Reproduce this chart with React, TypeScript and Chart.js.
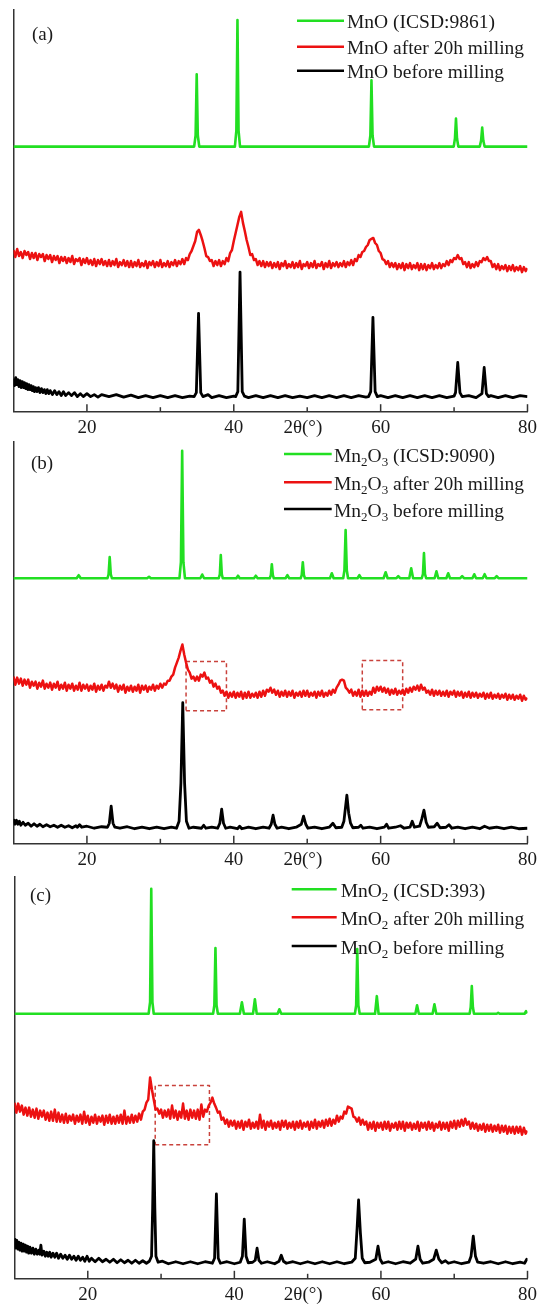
import React, { useEffect, useRef } from 'react';
import { Chart, registerables } from 'chart.js';
Chart.register(...registerables);

// ---------------- data ----------------
const X_MIN = 10;
const X_MAX = 80;
const X_TICK_LABELS = [20, 40, 60, 80];
const X_TITLE = '2θ(°)';
const X_TITLE_AT = 49.4;
const SCAN_START = 10;
const SCAN_STEP = 0.25;

const PANEL_TAGS = ['(a)', '(b)', '(c)'];
const LABELS_A = ['MnO (ICSD:9861)', 'MnO after 20h milling', 'MnO before milling'];
const LABELS_B = ['Mn₂O₃ (ICSD:9090)', 'Mn₂O₃ after 20h milling', 'Mn₂O₃ before milling'];
const LABELS_C = ['MnO₂ (ICSD:393)', 'MnO₂ after 20h milling', 'MnO₂ before milling'];

// reference patterns [2θ, intensity]
const REF_A: [number, number][] = [
  [10, 264], [34.6, 264], [34.8, 275], [34.95, 336], [35.1, 275], [35.3, 264],
  [40.15, 264], [40.35, 280], [40.5, 390], [40.65, 280], [40.85, 264],
  [58.4, 264], [58.6, 275], [58.75, 330], [58.9, 275], [59.1, 264],
  [69.95, 264], [70.12, 272], [70.26, 292], [70.4, 272], [70.58, 264],
  [73.5, 264], [73.68, 270], [73.83, 283], [73.98, 270], [74.16, 264], [80, 264],
];
const REF_B: [number, number][] = [
  [10, 264], [18.6, 264], [18.88, 267], [19.15, 264], [22.8, 264], [22.95, 268], [23.1, 285], [23.25, 268], [23.4, 264],
  [28.2, 264], [28.46, 265.5], [28.7, 264], [32.6, 264], [32.8, 280], [32.97, 391], [33.14, 280], [33.35, 264],
  [35.45, 264], [35.7, 267.7], [35.95, 264], [37.95, 264], [38.1, 268], [38.23, 287], [38.37, 268], [38.5, 264],
  [40.35, 264], [40.58, 266.5], [40.8, 264], [42.75, 264], [43.0, 266.5], [43.25, 264],
  [44.9, 264], [45.05, 267], [45.18, 278], [45.32, 267], [45.45, 264], [47.05, 264], [47.3, 267], [47.55, 264],
  [49.1, 264], [49.25, 267], [49.4, 280], [49.55, 267], [49.7, 264], [53.1, 264], [53.35, 269], [53.6, 264],
  [54.9, 264], [55.07, 272], [55.23, 312], [55.39, 272], [55.56, 264], [56.85, 264], [57.1, 267], [57.35, 264],
  [60.4, 264], [60.68, 270], [60.95, 264], [62.15, 264], [62.4, 266], [62.65, 264],
  [63.9, 264], [64.16, 274], [64.42, 264], [65.6, 264], [65.76, 268], [65.9, 289], [66.04, 268], [66.2, 264],
  [67.35, 264], [67.6, 271], [67.85, 264], [68.95, 264], [69.2, 269], [69.45, 264],
  [70.85, 264], [71.1, 266], [71.35, 264], [72.5, 264], [72.75, 268], [73.0, 264],
  [73.9, 264], [74.16, 268], [74.42, 264], [75.55, 264], [75.8, 266], [76.05, 264], [80, 264],
];
const REF_C: [number, number][] = [
  [10, 263.5], [28.3, 263.5], [28.5, 275], [28.66, 388], [28.82, 275], [29.0, 263.5],
  [37.1, 263.5], [37.27, 272], [37.42, 329], [37.57, 272], [37.75, 263.5],
  [40.75, 263.5], [41.03, 275], [41.3, 263.5], [42.55, 263.5], [42.8, 278], [43.05, 263.5],
  [45.9, 263.5], [46.14, 268], [46.4, 263.5], [56.45, 263.5], [56.62, 272], [56.77, 328], [56.92, 272], [57.1, 263.5],
  [59.2, 263.5], [59.44, 281], [59.68, 263.5], [64.7, 263.5], [64.93, 272], [65.17, 263.5],
  [67.05, 263.5], [67.3, 273], [67.55, 263.5], [72.1, 263.5], [72.25, 270], [72.4, 291], [72.55, 270], [72.7, 263.5],
  [75.8, 263.5], [76.0, 264.5], [76.2, 263.5], [79.6, 263.5], [79.8, 266], [80, 264],
];

// milled samples, scanned from SCAN_START every SCAN_STEP degrees
const MILLED_A: number[] = [
  161, 154, 162, 155, 159, 153, 160, 156, 159, 152, 158, 153, 158, 151, 157, 154, 157, 150, 156, 152,
  156, 149, 155, 151, 155, 148, 154, 150, 154, 148, 153, 149, 155, 147, 152, 150, 153, 146, 152, 148,
  153, 147, 151, 146, 152, 145, 151, 147, 152, 146, 150, 145, 151, 145, 150, 146, 152, 144, 149, 146,
  151, 145, 150, 144, 150, 144, 149, 145, 151, 144, 148, 145, 150, 143, 149, 146, 150, 144, 149, 145,
  151, 144, 148, 145, 150, 144, 149, 146, 151, 145, 150, 147, 152, 147, 153, 151, 157, 160, 165, 170,
  179, 181, 176, 170, 163, 155, 154, 150, 151, 145, 150, 146, 151, 145, 150, 147, 153, 150, 158, 161,
  170, 178, 186, 194, 199, 188, 180, 171, 164, 156, 157, 151, 152, 146, 150, 145, 150, 144, 149, 145,
  149, 143, 148, 144, 149, 142, 148, 145, 150, 143, 147, 144, 149, 143, 148, 144, 150, 142, 147, 145,
  149, 143, 148, 144, 150, 143, 147, 145, 149, 142, 148, 144, 150, 143, 148, 145, 149, 144, 148, 145,
  150, 144, 149, 146, 151, 146, 152, 150, 156, 154, 159, 160, 164, 166, 171, 172, 173, 168, 166, 160,
  158, 152, 151, 147, 150, 144, 148, 144, 148, 142, 147, 143, 148, 141, 147, 143, 148, 142, 146, 143,
  148, 141, 147, 142, 147, 141, 146, 143, 148, 142, 146, 143, 148, 143, 147, 145, 150, 146, 151, 149,
  153, 152, 156, 152, 153, 147, 149, 144, 149, 143, 147, 144, 149, 145, 150, 149, 153, 151, 154, 150,
  150, 144, 147, 142, 147, 141, 145, 142, 146, 140, 145, 141, 146, 140, 144, 141, 145, 139, 144, 140,
  143,
];
const MILLED_B: number[] = [
  166, 158, 165, 159, 164, 157, 163, 158, 163, 155, 161, 157, 161, 154, 160, 156, 162, 154, 159, 155,
  160, 153, 159, 155, 161, 153, 158, 154, 160, 152, 158, 154, 159, 152, 157, 153, 160, 152, 158, 154,
  158, 152, 157, 153, 159, 151, 157, 153, 158, 152, 157, 155, 161, 155, 159, 154, 158, 151, 157, 153,
  158, 150, 156, 152, 157, 151, 156, 152, 158, 150, 157, 153, 157, 151, 156, 153, 158, 152, 157, 154,
  159, 155, 159, 158, 162, 162, 166, 168, 175, 180, 185, 192, 198, 188, 180, 173, 170, 164, 166, 162,
  166, 162, 168, 166, 170, 164, 165, 160, 162, 156, 159, 154, 156, 150, 152, 147, 151, 145, 150, 146,
  151, 145, 150, 146, 151, 144, 150, 145, 151, 145, 149, 146, 150, 145, 151, 146, 152, 147, 153, 151,
  155, 150, 153, 148, 152, 146, 151, 147, 152, 146, 151, 147, 152, 145, 150, 147, 151, 146, 152, 147,
  152, 146, 150, 147, 151, 145, 151, 147, 152, 146, 150, 147, 152, 148, 153, 150, 155, 158, 162, 163,
  162, 155, 153, 150, 153, 147, 151, 147, 153, 146, 152, 147, 152, 147, 151, 148, 155, 150, 156, 152,
  156, 151, 155, 150, 154, 148, 153, 149, 154, 148, 152, 149, 153, 148, 154, 150, 155, 151, 156, 153,
  157, 152, 158, 153, 155, 150, 152, 148, 153, 147, 152, 148, 152, 147, 151, 147, 152, 146, 151, 148,
  152, 146, 151, 147, 151, 145, 150, 146, 151, 145, 150, 146, 150, 145, 149, 146, 150, 144, 149, 145,
  150, 144, 148, 145, 149, 144, 148, 145, 149, 143, 148, 144, 148, 143, 147, 144, 148, 142, 147, 143,
  145,
];
const MILLED_C: number[] = [
  175, 165, 174, 166, 172, 163, 170, 162, 170, 161, 168, 160, 169, 159, 167, 161, 167, 158, 165, 157,
  166, 157, 168, 156, 165, 156, 163, 155, 164, 155, 162, 157, 163, 154, 162, 156, 163, 154, 166, 155,
  162, 153, 161, 155, 163, 154, 161, 156, 162, 153, 162, 155, 163, 154, 161, 154, 162, 155, 163, 154,
  167, 154, 161, 155, 163, 155, 162, 156, 164, 158, 166, 168, 175, 178, 200, 188, 178, 168, 169, 164,
  168, 160, 167, 161, 168, 159, 172, 160, 167, 158, 166, 160, 174, 159, 167, 158, 168, 160, 167, 159,
  168, 158, 173, 161, 168, 166, 172, 175, 180, 174, 170, 165, 166, 158, 160, 154, 158, 151, 157, 152,
  157, 149, 156, 150, 157, 148, 156, 151, 158, 149, 155, 150, 156, 149, 163, 150, 157, 148, 156, 151,
  157, 149, 155, 150, 156, 148, 157, 151, 157, 149, 155, 150, 156, 148, 156, 150, 157, 149, 155, 151,
  156, 148, 156, 150, 158, 149, 156, 151, 157, 150, 158, 152, 159, 152, 158, 154, 162, 156, 161, 159,
  166, 164, 171, 170, 169, 161, 160, 156, 160, 153, 158, 153, 156, 148, 155, 149, 156, 147, 155, 150,
  155, 148, 156, 149, 156, 147, 154, 150, 155, 148, 156, 149, 156, 147, 155, 150, 155, 148, 154, 149,
  156, 147, 155, 150, 155, 148, 156, 149, 155, 147, 154, 150, 156, 148, 155, 149, 155, 147, 156, 150,
  157, 149, 157, 151, 158, 152, 159, 153, 156, 149, 155, 149, 154, 147, 153, 148, 154, 146, 153, 147,
  153, 146, 152, 147, 153, 145, 152, 146, 152, 144, 151, 145, 151, 144, 151, 145, 151, 143, 150, 144,
  147,
];

// as-received samples [2θ, intensity]
const RAW_A: [number, number][] = [
  [10, 33], [10.15, 26], [10.3, 34], [10.45, 27], [10.6, 32], [10.75, 25], [10.9, 31], [11.05, 24], [11.2, 30], [11.35, 24],
  [11.5, 29], [11.65, 23], [11.8, 28], [11.95, 22], [12.1, 27], [12.25, 22], [12.4, 26], [12.55, 21], [12.7, 25], [12.85, 20],
  [13, 24], [13.2, 20], [13.4, 24], [13.6, 19], [13.8, 23], [14, 19], [14.2, 22], [14.4, 18], [14.6, 22], [14.8, 18],
  [15, 21], [15.3, 17], [15.6, 21], [15.9, 17], [16.2, 20], [16.5, 16], [16.8, 20], [17.1, 16], [17.5, 19], [17.9, 16],
  [18.3, 19], [18.7, 15], [19.1, 18], [19.5, 15], [20, 18], [20.5, 15], [21, 17], [21.5, 14.5], [22, 17], [23, 15],
  [24, 17], [25, 14.5], [26, 16.5], [27, 14], [28, 16], [29, 14], [30, 16], [31, 14], [32, 16], [33, 14], [34, 15.5],
  [34.6, 15], [34.9, 19], [35.2, 98], [35.5, 19], [35.8, 15], [36.5, 17], [37, 14], [38, 16], [39, 14], [40, 15.5],
  [40.25, 15], [40.55, 20], [40.85, 139], [41.15, 20], [41.45, 15.5], [42, 14], [43, 16], [44, 14], [45, 16], [46, 14],
  [47, 16], [48, 14], [49, 15.5], [50, 14], [51, 16], [52, 14], [53, 16], [54, 14], [55, 16], [56, 14], [57, 16], [58, 14.5],
  [58.35, 15], [58.65, 20], [58.95, 94], [59.25, 20], [59.55, 15], [60, 16], [61, 14], [62, 16], [63, 14], [64, 16],
  [65, 14], [66, 16], [67, 14], [68, 16], [69, 14], [70, 15.5], [70.2, 19], [70.5, 49], [70.8, 19], [71.1, 15], [72, 16],
  [73, 14], [73.8, 18], [74.1, 44], [74.4, 18], [74.7, 15], [75, 16], [76, 14], [77, 16], [78, 14], [79, 16], [80, 15],
];
const RAW_B: [number, number][] = [
  [10, 24], [10.2, 19], [10.4, 23], [10.6, 19], [10.8, 22], [11, 18], [11.3, 21], [11.6, 18], [12, 20], [12.4, 17],
  [12.8, 19.5], [13.2, 17], [13.6, 19], [14, 16.5], [14.5, 18.5], [15, 16.5], [15.5, 18], [16, 16], [16.5, 18], [17, 16],
  [17.5, 17.5], [18, 15.5], [18.5, 17.5], [18.7, 16], [19, 18.5], [19.3, 16], [20, 17], [21, 15], [22, 16.5], [22.8, 16],
  [23.05, 20], [23.3, 37], [23.55, 20], [23.8, 16], [24.5, 15], [25.5, 16.5], [26.5, 14.5], [27.5, 16], [28.5, 14.5],
  [29.5, 16], [30.5, 14.5], [31.5, 16], [32.2, 15], [32.55, 22], [32.8, 60], [33.05, 140], [33.3, 60], [33.55, 22],
  [33.9, 15], [34.5, 16], [35.6, 15], [35.9, 18], [36.2, 15], [37, 16], [37.8, 15], [38.1, 20], [38.35, 34], [38.6, 20],
  [38.9, 15], [39.5, 16], [40.5, 14.5], [40.8, 17], [41.1, 14.5], [42, 16], [43, 14.5], [44, 16], [44.8, 15], [45.1, 19],
  [45.35, 28], [45.6, 19], [45.9, 15], [46.5, 16], [47.5, 14.5], [48.5, 16], [49.2, 19], [49.5, 27], [49.8, 19], [50.1, 15],
  [51, 16], [52, 14.5], [53, 16], [53.5, 20], [53.9, 15.5], [54.7, 16], [55, 22], [55.2, 35], [55.4, 48], [55.65, 30],
  [55.9, 20], [56.2, 15.5], [57, 16], [57.3, 18], [57.6, 15], [58.5, 16], [59.5, 14.5], [60.5, 16], [60.8, 19], [61.1, 15],
  [62, 16], [62.7, 17.5], [63.2, 15], [64, 16], [64.3, 22], [64.6, 16], [65.3, 17], [65.6, 24], [65.9, 33], [66.2, 21],
  [66.5, 16], [67.3, 16.5], [67.7, 20], [68.1, 15.5], [68.9, 16], [69.3, 18.5], [69.7, 15], [70.5, 16], [71.5, 14.5],
  [72.5, 16], [73.5, 14.5], [74.15, 17], [74.8, 15], [75.8, 16], [76.8, 14.5], [77.8, 16], [78.8, 14.5], [80, 15],
];
const RAW_C: [number, number][] = [
  [10, 40], [10.15, 30], [10.3, 38], [10.45, 29], [10.6, 36], [10.75, 28], [10.9, 35], [11.05, 27], [11.2, 34], [11.35, 27],
  [11.5, 33], [11.65, 26], [11.8, 32], [11.95, 25], [12.1, 31], [12.3, 25], [12.5, 30], [12.7, 24], [12.9, 29], [13.1, 24],
  [13.3, 28], [13.45, 24], [13.6, 33], [13.75, 23], [14, 27], [14.2, 22], [14.4, 26], [14.6, 22], [14.8, 26], [15, 21],
  [15.25, 25], [15.5, 21], [15.75, 25], [16, 20], [16.3, 24], [16.6, 20], [16.9, 23], [17.2, 19], [17.5, 23], [17.8, 19],
  [18.1, 22], [18.4, 18], [18.7, 22], [19, 18], [19.3, 21], [19.6, 17], [19.9, 22], [20.2, 17], [20.5, 20], [21, 16.5],
  [21.5, 20], [22, 16.5], [22.5, 19], [23, 16], [23.5, 19], [24, 15.5], [24.5, 18.5], [25, 15.5], [25.5, 18], [26, 15],
  [26.5, 18], [27, 15], [27.5, 17.5], [28, 15], [28.4, 17], [28.7, 22], [28.85, 70], [29.0, 137], [29.15, 70], [29.3, 22],
  [29.6, 16], [30.2, 17], [31, 14.5], [32, 16.5], [33, 14.5], [34, 16.5], [35, 14.5], [36, 16.5], [37, 15], [37.3, 20],
  [37.55, 84], [37.8, 20], [38.1, 15], [39, 16.5], [40, 14.5], [40.8, 16], [41.1, 22], [41.35, 59], [41.6, 22], [41.9, 15.5],
  [42.5, 16], [42.85, 18], [43.1, 30], [43.35, 18], [43.7, 15], [44.5, 16.5], [45.5, 14.5], [46.1, 17], [46.4, 23],
  [46.7, 17], [47.1, 15], [48, 16.5], [49, 14.5], [50, 16.5], [51, 14.5], [52, 16.5], [53, 14.5], [54, 16.5], [55, 14.5],
  [56, 16], [56.5, 20], [56.75, 50], [56.95, 78], [57.2, 45], [57.45, 20], [57.8, 15.5], [58.5, 16], [59.3, 19], [59.6, 32],
  [59.9, 19], [60.2, 15], [61, 16.5], [62, 14.5], [63, 16.5], [64, 15], [64.75, 19], [65.05, 32], [65.35, 19], [65.7, 15],
  [66.5, 16], [67.2, 19], [67.55, 28], [67.9, 19], [68.3, 15.5], [68.8, 17.5], [69.2, 15], [70, 16.5], [71, 14.5], [72, 16],
  [72.3, 22], [72.6, 42], [72.9, 22], [73.2, 16], [74, 15], [75, 16.5], [76, 14.5], [77, 16.5], [78, 14.5], [79, 16],
  [79.6, 15], [79.9, 19], [80, 17],
];

// highlighted regions [x0, x1, yBottom, yTop]
const BOXES_A: number[][] = [];
const BOXES_B: number[][] = [[33.5, 39.0, 132, 181], [57.5, 63.0, 133, 182]];
const BOXES_C: number[][] = [[29.2, 36.6, 133, 192]];

// ---------------- styling / layout ----------------
const GREEN = '#22df22';
const RED = '#ec1111';
const BLACK = '#000000';
const BOX_COLOR = '#c9423c';
const AXIS_COLOR = '#333333';
const TEXT_COLOR = '#1a1a1a';
const SERIF = '"Liberation Serif", "Times New Roman", serif';

const PANELS = [
  {
    tag: PANEL_TAGS[0], labels: LABELS_A, ref: REF_A, milled: MILLED_A, raw: RAW_A, boxes: BOXES_A,
    top: 0, height: 440, pad: { left: 13.5, right: 12.5, top: 10 }, axisH: 28.3,
    legend: { x0: 297, x1: 344, tx: 347, rows: [20.7, 46.7, 70.7] }, tagPos: { x: 32, y: 35 },
  },
  {
    tag: PANEL_TAGS[1], labels: LABELS_B, ref: REF_B, milled: MILLED_B, raw: RAW_B, boxes: BOXES_B,
    top: 432, height: 440, pad: { left: 13.5, right: 12.5, top: 9.7 }, axisH: 28.7,
    legend: { x0: 284, x1: 331.7, tx: 334, rows: [22, 50.3, 77] }, tagPos: { x: 31, y: 32.5 },
  },
  {
    tag: PANEL_TAGS[2], labels: LABELS_C, ref: REF_C, milled: MILLED_C, raw: RAW_C, boxes: BOXES_C,
    top: 866, height: 443, pad: { left: 14.5, right: 10.7, top: 10.7 }, axisH: 30.7,
    legend: { x0: 291.7, x1: 336.7, tx: 340.7, rows: [23.3, 51.3, 80] }, tagPos: { x: 30, y: 29.7 },
  },
];

const SUBS = '₀₁₂₃₄₅₆₇₈₉';
function drawRich(ctx: CanvasRenderingContext2D, text: string, x: number, baseY: number) {
  const runs: { t: string; sub: boolean }[] = [];
  for (const ch of text) {
    const sub = SUBS.indexOf(ch) >= 0;
    const c = sub ? String(SUBS.indexOf(ch)) : ch;
    if (runs.length && runs[runs.length - 1].sub === sub) runs[runs.length - 1].t += c;
    else runs.push({ t: c, sub });
  }
  let cx = x;
  for (const r of runs) {
    ctx.font = r.sub ? `13px ${SERIF}` : `19.5px ${SERIF}`;
    ctx.fillText(r.t, cx, r.sub ? baseY + 4.5 : baseY);
    cx += ctx.measureText(r.t).width;
  }
}

const decorPlugin = {
  id: 'decor',
  afterDraw(chart: any, _args: any, opts: any) {
    const { ctx, chartArea } = chart;
    const xs = chart.scales.x;
    ctx.save();
    // inward tick marks
    ctx.strokeStyle = AXIS_COLOR;
    ctx.lineWidth = 1.5;
    for (let v = X_MIN + 10; v <= X_MAX; v += 10) {
      const px = xs.getPixelForValue(v);
      const len = X_TICK_LABELS.includes(v) ? 7.5 : 4.5;
      ctx.beginPath();
      ctx.moveTo(px, chartArea.bottom);
      ctx.lineTo(px, chartArea.bottom - len);
      ctx.stroke();
    }
    // axis title on tick-label row
    ctx.fillStyle = TEXT_COLOR;
    ctx.textAlign = 'center';
    ctx.textBaseline = 'middle';
    ctx.font = `19px ${SERIF}`;
    ctx.fillText(X_TITLE, xs.getPixelForValue(X_TITLE_AT), chartArea.bottom + 16.5);
    // panel tag
    ctx.textAlign = 'left';
    ctx.fillText(opts.tag, opts.tagPos.x, opts.tagPos.y);
    // legend
    const lg = opts.legend;
    chart.data.datasets.slice(0, 3).forEach((ds: any, i: number) => {
      const y = lg.rows[i];
      ctx.strokeStyle = ds.borderColor;
      ctx.lineWidth = 2.5;
      ctx.beginPath();
      ctx.moveTo(lg.x0, y);
      ctx.lineTo(lg.x1, y);
      ctx.stroke();
      ctx.fillStyle = TEXT_COLOR;
      ctx.textBaseline = 'alphabetic';
      drawRich(ctx, ds.label, lg.tx, y + 7.5);
    });
    ctx.restore();
  },
};

function PanelChart({ p }: { p: any }) {
  const ref = useRef<HTMLCanvasElement | null>(null);
  useEffect(() => {
    if (!ref.current) return;
    const pairs = (a: [number, number][]) => a.map(([x, y]) => ({ x, y }));
    const scan = (a: number[]) => a.map((y, i) => ({ x: SCAN_START + i * SCAN_STEP, y }));
    const datasets: any[] = [
      { label: p.labels[0], data: pairs(p.ref), borderColor: GREEN, borderWidth: 2.6 },
      { label: p.labels[1], data: scan(p.milled), borderColor: RED, borderWidth: 2.5 },
      { label: p.labels[2], data: pairs(p.raw), borderColor: BLACK, borderWidth: 2.8 },
      ...p.boxes.map((b: number[]) => ({
        label: '',
        data: [{ x: b[0], y: b[2] }, { x: b[1], y: b[2] }, { x: b[1], y: b[3] }, { x: b[0], y: b[3] }, { x: b[0], y: b[2] }],
        borderColor: BOX_COLOR, borderWidth: 1.5, borderDash: [4, 3],
      })),
    ].map((d) => ({ ...d, pointRadius: 0, tension: 0, fill: false, borderJoinStyle: 'round' }));

    const chart = new Chart(ref.current, {
      type: 'line',
      data: { datasets },
      options: {
        responsive: false,
        animation: false,
        devicePixelRatio: 1,
        events: [],
        layout: { padding: { left: p.pad.left, right: p.pad.right, top: p.pad.top, bottom: 0 } },
        plugins: {
          legend: { display: false },
          tooltip: { enabled: false },
          decor: { tag: p.tag, tagPos: p.tagPos, legend: p.legend },
        } as any,
        scales: {
          x: {
            type: 'linear',
            min: X_MIN,
            max: X_MAX,
            grid: { display: false, drawTicks: false },
            border: { display: true, color: AXIS_COLOR, width: 1.5 },
            ticks: {
              stepSize: 10,
              autoSkip: false,
              maxRotation: 0,
              padding: 5,
              color: TEXT_COLOR,
              font: { family: SERIF, size: 19 },
              callback: (v: any) => (X_TICK_LABELS.includes(Number(v)) ? String(v) : ''),
            },
            afterFit: (s: any) => { s.height = p.axisH; },
          },
          y: {
            type: 'linear',
            min: 0,
            max: 400,
            grid: { display: false, drawTicks: false },
            border: { display: true, color: AXIS_COLOR, width: 1.5 },
            ticks: { display: false },
            afterFit: (s: any) => { s.width = 0; },
          },
        },
      },
      plugins: [decorPlugin],
    });
    return () => chart.destroy();
  }, [p]);
  return (
    <canvas
      ref={ref}
      width={542}
      height={p.height}
      style={{ position: 'absolute', left: 0, top: p.top, width: 542, height: p.height }}
    />
  );
}

export default function App() {
  return (
    <div style={{ position: 'absolute', left: 0, top: 0, width: 542, height: 1309, background: '#ffffff' }}>
      {PANELS.map((p, i) => (
        <PanelChart key={i} p={p} />
      ))}
    </div>
  );
}
